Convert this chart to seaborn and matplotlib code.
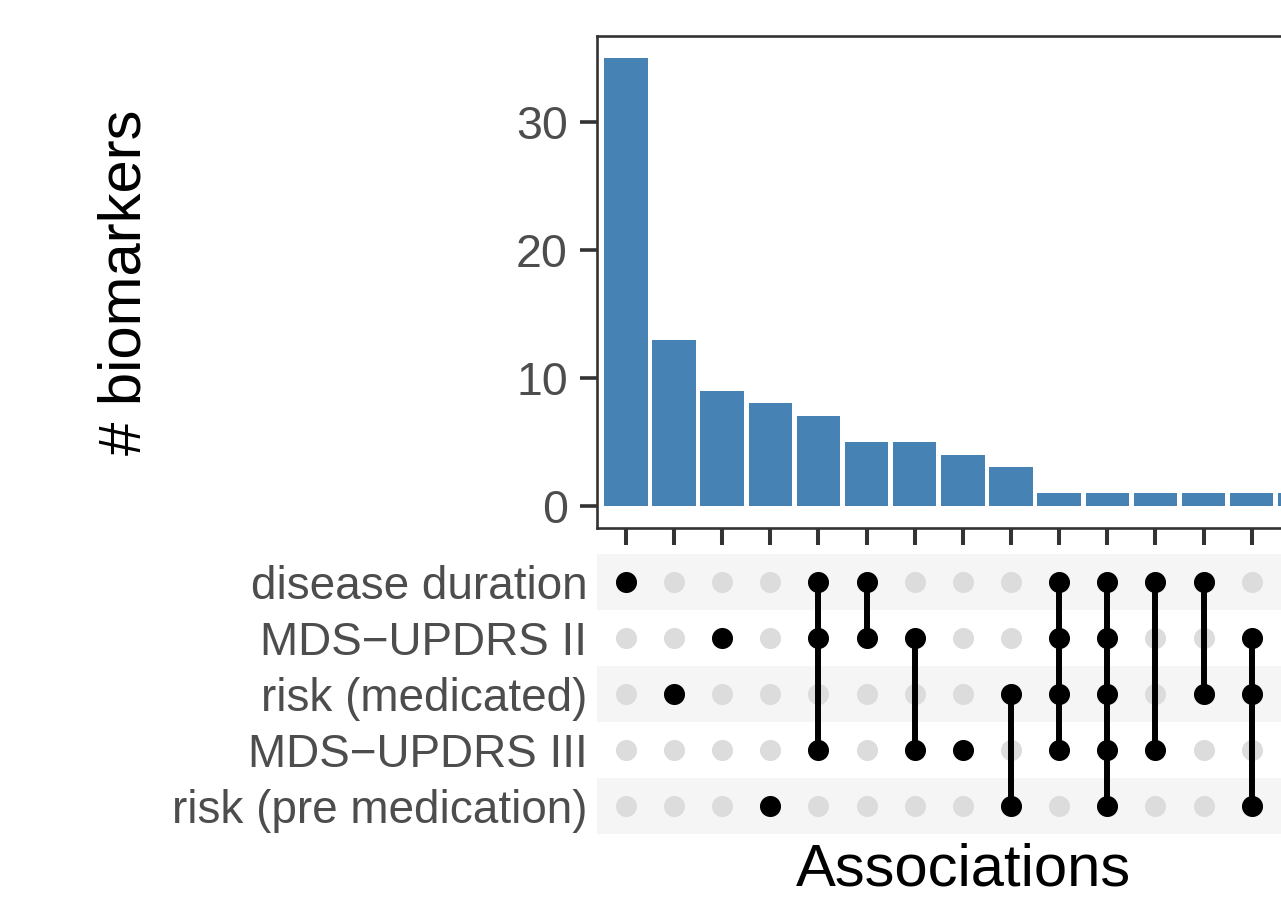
import numpy as np
import pandas as pd
import matplotlib
matplotlib.use('Agg')
import matplotlib.pyplot as plt
import seaborn as sns

# set names (matrix rows, top to bottom)
sets = ['disease duration', 'MDS\u2212UPDRS II', 'risk (medicated)',
        'MDS\u2212UPDRS III', 'risk (pre medication)']

# intersections: member set indices per column, and their sizes
combos = [[0], [2], [1], [4], [0, 1, 3], [0, 1], [1, 3], [3], [2, 4],
          [0, 1, 2, 3], [0, 1, 2, 3, 4], [0, 3], [0, 2], [1, 2, 4], []]
counts = [35, 13, 9, 8, 7, 5, 5, 4, 3, 1, 1, 1, 1, 1, 1]

yticks = [0, 10, 20, 30]

sns.set_theme(style='white')
plt.rcParams['font.family'] = ['Liberation Sans', 'DejaVu Sans']

W, H = 1281, 899
fig = plt.figure(figsize=(W / 100, H / 100), dpi=100)

n = len(counts)
left = 597 / W
width = (625 + (n - 0.4) * 48.2 - 597) / W

# ---- bar panel
ax = fig.add_axes([left, 371 / H, width, 492 / H])
bars = pd.DataFrame({'col': list(range(n)), 'count': counts})
sns.barplot(data=bars, x='col', y='count', color='#4682b4', width=0.9,
            saturation=1, linewidth=0, ax=ax)
ax.set_xlim(-0.6, n - 0.4)
ax.set_ylim(-1.75, 36.75)
ax.set_yticks(yticks)
ax.set_yticklabels([str(t) for t in yticks])
ax.set_xticks(range(n))
ax.set_xticklabels([])
ax.set_xlabel('')
ax.set_ylabel('')
for s in ax.spines.values():
    s.set_visible(True)
    s.set_color('#333333')
    s.set_linewidth(1.9)
ax.tick_params(axis='y', length=12, width=2.6, color='#333333',
               labelsize=33.5, labelcolor='#4d4d4d', pad=9, left=True)
ax.tick_params(axis='x', length=12, width=2.9, color='#333333', bottom=True)

# ---- matrix panel
ax2 = fig.add_axes([left, 65 / H, width, 280 / H])
for j in range(0, len(sets), 2):
    ax2.axhspan(j - 0.5, j + 0.5, color='#f5f5f5', lw=0, zorder=0)

grid = pd.DataFrame([(i, j, j in combos[i]) for i in range(n) for j in range(len(sets))],
                    columns=['col', 'row', 'member'])
sns.scatterplot(data=grid[~grid['member']], x='col', y='row', color='#dcdcdc',
                s=230, linewidth=0, ax=ax2, zorder=2)
for i, c in enumerate(combos):
    if len(c) > 1:
        ax2.vlines(i, min(c), max(c), color='black', lw=4.3, zorder=3)
sns.scatterplot(data=grid[grid['member']], x='col', y='row', color='black',
                s=230, linewidth=0, ax=ax2, zorder=4)
ax2.set_xlim(-0.6, n - 0.4)
ax2.set_ylim(len(sets) - 0.5, -0.5)
ax2.set_xticks([])
ax2.set_yticks(range(len(sets)))
ax2.set_yticklabels(sets)
ax2.tick_params(axis='y', length=0, labelsize=33, labelcolor='#4d4d4d', pad=7)
ax2.set_xlabel('')
ax2.set_ylabel('')
for s in ax2.spines.values():
    s.set_visible(False)

fig.text(125 / W, 1 - 282 / H, '# biomarkers', rotation=90, ha='center',
         va='center', fontsize=43, color='black')
fig.text(963 / W, 2 / H, 'Associations', ha='center', va='bottom',
         fontsize=43, color='black')

fig.savefig('out.png', dpi=100)
